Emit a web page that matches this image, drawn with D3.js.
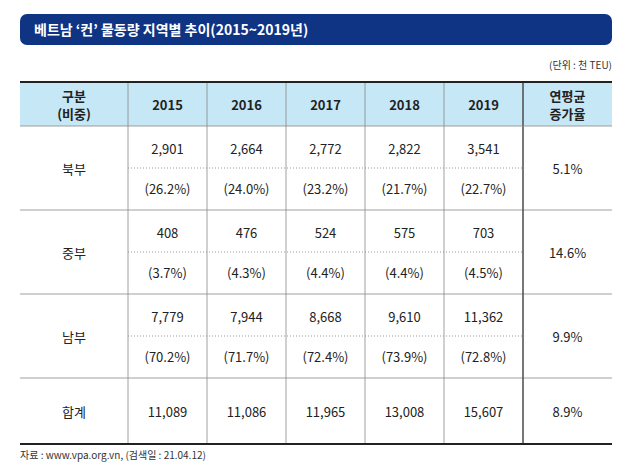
<!DOCTYPE html>
<html><head><meta charset="utf-8">
<script src="https://cdn.jsdelivr.net/npm/d3@7"></script>
<style>body{margin:0;background:#fff}text{font-family:"Noto Sans CJK KR","Noto Sans",sans-serif}</style>
</head><body><svg id="c" width="634" height="469"></svg>
<script>
var years = ["2015", "2016", "2017", "2018", "2019"];
var regions = ["북부", "중부", "남부"];
var volumes = [
  ["2,901", "2,664", "2,772", "2,822", "3,541"],
  ["408", "476", "524", "575", "703"],
  ["7,779", "7,944", "8,668", "9,610", "11,362"]
];
var shares = [
  ["(26.2%)", "(24.0%)", "(23.2%)", "(21.7%)", "(22.7%)"],
  ["(3.7%)", "(4.3%)", "(4.4%)", "(4.4%)", "(4.5%)"],
  ["(70.2%)", "(71.7%)", "(72.4%)", "(73.9%)", "(72.8%)"]
];
var growth = ["5.1%", "14.6%", "9.9%"];
var totals = ["11,089", "11,086", "11,965", "13,008", "15,607"];
var totalGrowth = "8.9%";

var svg = d3.select("#c");
var L = 20, R = 612;
var cols = ["g"].concat(years, ["r"]);
var x = d3.scaleOrdinal().domain(cols).range([128, 207, 286, 365, 444, 523, 612]);
var left = function (c) { var i = cols.indexOf(c); return i == 0 ? L : x(cols[i - 1]); };
var mid = function (c) { return (left(c) + x(c)) / 2; };

// title bar
svg.append("rect").attr("x", L).attr("y", 14).attr("width", R - L).attr("height", 31)
  .attr("rx", 7).attr("fill", "#0f3484");
svg.append("text").attr("x", 34).attr("y", 35).attr("fill", "#fff")
  .attr("font-size", 14).attr("font-weight", "bold").text("베트남 ‘컨’ 물동량 지역별 추이(2015~2019년)");
svg.append("text").attr("x", R).attr("y", 69).attr("text-anchor", "end")
  .attr("font-size", 10).attr("fill", "#333").text("(단위 : 천 TEU)");

var tTop = 82, headH = 44, rowH = 84, totH = 66;
var rowTop = function (i) { return tTop + headH + i * rowH; };
var tBottom = rowTop(3) + totH;

svg.append("rect").attr("x", L).attr("y", tTop).attr("width", R - L).attr("height", headH).attr("fill", "#c6e7f6");

var cell = function (cx, cy, t, bold, size) {
  svg.append("text").attr("x", cx).attr("y", cy).attr("text-anchor", "middle")
    .attr("dominant-baseline", "central").attr("font-size", size || 13)
    .attr("font-weight", bold ? "bold" : "normal").attr("fill", "#222").text(t);
};
cell(mid("g"), tTop + 13, "구분", true);
cell(mid("g"), tTop + 31, "(비중)", true);
years.forEach(function (y) { cell(mid(y), tTop + headH / 2, y, true); });
cell(mid("r"), tTop + 13, "연평균", true);
cell(mid("r"), tTop + 31, "증가율", true);

regions.forEach(function (r, i) {
  var t = rowTop(i);
  cell(mid("g"), t + rowH / 2, r);
  cell(mid("r"), t + rowH / 2, growth[i]);
  years.forEach(function (y, j) {
    cell(mid(y), t + 22, volumes[i][j]);
    cell(mid(y), t + 62, shares[i][j]);
  });
  svg.append("line").attr("x1", x("g")).attr("x2", x("2019")).attr("y1", t + 42).attr("y2", t + 42)
    .attr("stroke", "#999").attr("stroke-dasharray", "1,2");
  svg.append("line").attr("x1", L).attr("x2", R).attr("y1", t + rowH).attr("y2", t + rowH)
    .attr("stroke", "#888").attr("stroke-width", 0.8);
});
cell(mid("g"), rowTop(3) + totH / 2, "합계");
years.forEach(function (y, j) { cell(mid(y), rowTop(3) + totH / 2, totals[j]); });
cell(mid("r"), rowTop(3) + totH / 2, totalGrowth);

cols.slice(0, 6).forEach(function (c) {
  svg.append("line").attr("x1", x(c)).attr("x2", x(c)).attr("y1", tTop).attr("y2", tBottom)
    .attr("stroke", c == "2019" ? "#555" : "#888").attr("stroke-width", c == "2019" ? 1.6 : 0.8);
});
svg.append("line").attr("x1", L).attr("x2", R).attr("y1", tTop + headH).attr("y2", tTop + headH).attr("stroke", "#888").attr("stroke-width", 0.8);
[tTop, tBottom].forEach(function (y) {
  svg.append("line").attr("x1", L).attr("x2", R).attr("y1", y).attr("y2", y).attr("stroke", "#222").attr("stroke-width", 2);
});
svg.append("text").attr("x", L).attr("y", tBottom + 15).attr("font-size", 10).attr("fill", "#333")
  .text("자료 : www.vpa.org.vn, (검색일 : 21.04.12)");
</script></body></html>
